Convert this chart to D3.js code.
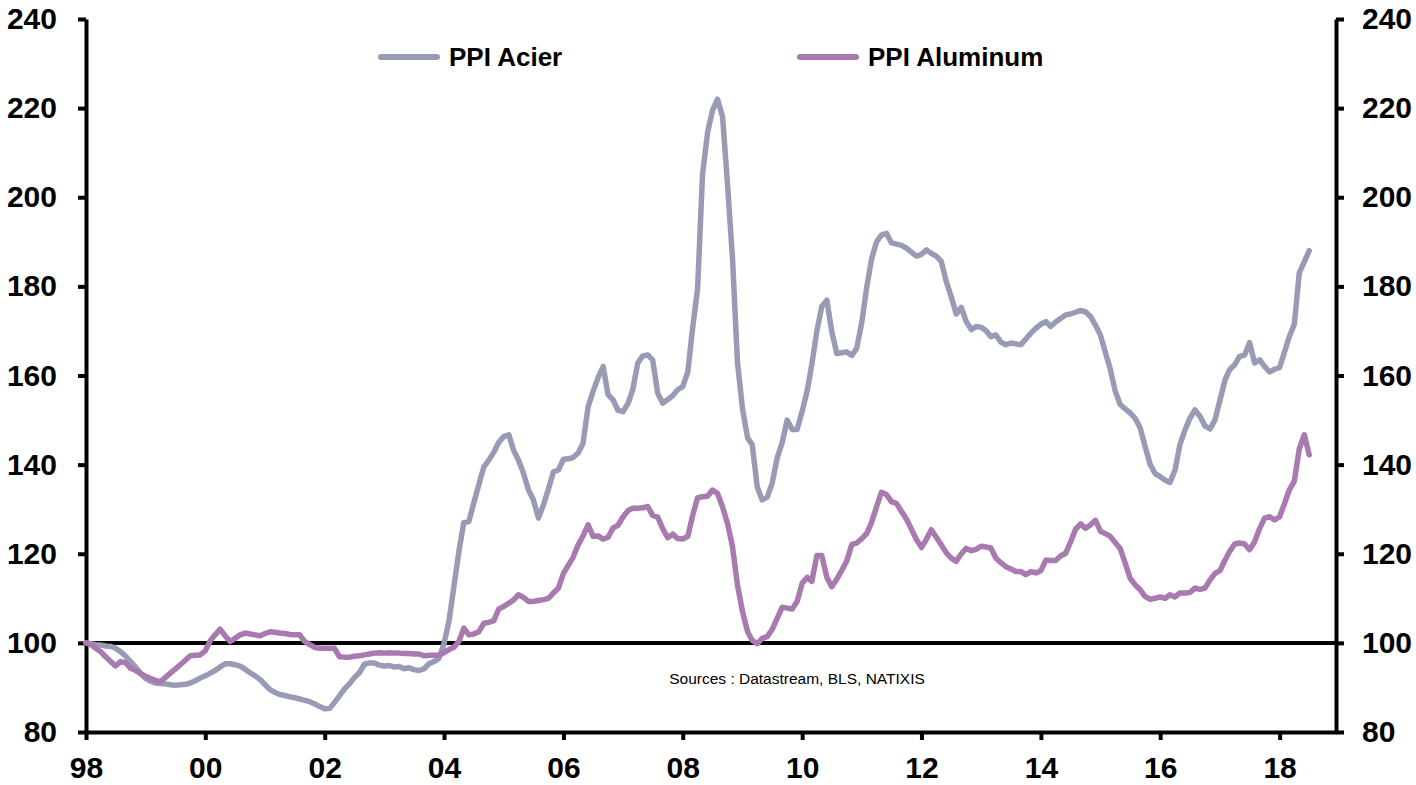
<!DOCTYPE html>
<html>
<head>
<meta charset="utf-8">
<script src="https://cdn.jsdelivr.net/npm/d3@7"></script>
<style>
  body { margin: 0; background: #fff; }
  svg { display: block; font-family: Arial, "Liberation Sans", sans-serif; }
</style>
</head>
<body>
<div id="chart"></div>
<script>
// monthly values, Jan 1998 -> Jul 2018 (index 1998 = 100)
const acier = [
  100, 99.8, 99.6, 99.5, 99.3, 99.2, 98.8, 98, 97, 95.8, 94.5, 93.2,
  92, 91.4, 91.0, 90.9, 90.8, 90.6, 90.5, 90.6, 90.7, 91.0, 91.5, 92.1,
  92.6, 93.2, 93.8, 94.6, 95.3, 95.3, 95.1, 94.8, 94.1, 93.3, 92.6, 91.8,
  90.6, 89.5, 88.9, 88.4, 88.2, 87.9, 87.7, 87.4, 87.1, 86.8, 86.3, 85.7,
  85.2, 85.3, 86.6, 88.1, 89.6, 90.8, 92.2, 93.3, 95.2, 95.5, 95.5, 95.0,
  94.8, 94.9, 94.6, 94.7, 94.2, 94.4, 94.0, 93.8, 94.2, 95.3, 95.8, 96.5,
  99.8, 105, 112.5, 120.5, 127, 127.2, 131.4, 135.5, 139.5, 141, 142.8, 145,
  146.3, 146.7, 143.3, 141, 138.1, 134.3, 132.1, 128, 131, 134.5, 138.4, 138.8,
  141.2, 141.3, 141.6, 142.6, 144.8, 153, 156.4, 159.5, 162, 155.7, 154.5, 152.2,
  151.9, 153.8, 156.8, 162.8, 164.4, 164.6, 163.5, 156, 153.8, 154.6, 155.5, 156.8,
  157.5, 160.8, 170.5, 179.5, 205, 214.5, 219.5, 222, 218, 203, 186, 163,
  152.5, 146, 144.5, 135, 132.1, 132.7, 135.8, 141.5, 145, 150, 147.9, 147.9,
  152, 156.6, 162.5, 170, 175.5, 176.9, 169.9, 164.9, 165.1, 165.3, 164.5, 166.1,
  172, 180, 186, 190, 191.5, 191.9, 189.8, 189.5, 189.2, 188.6, 187.7, 186.8,
  187.2, 188.2, 187.4, 186.8, 185.6, 181.1, 177.7, 173.8, 175.3, 172.1, 170.3, 171,
  170.8, 170, 168.7, 169.1, 167.5, 166.9, 167.3, 167.1, 166.9, 168.2, 169.5, 170.6,
  171.5, 172.1, 171, 172, 172.8, 173.6, 173.8, 174.2, 174.6, 174.3, 173.2, 171.3,
  169, 165, 161.5, 156.5, 153.5, 152.5, 151.6, 150.4, 148.2, 144, 140, 138,
  137.3, 136.5, 136, 138.8, 144.5, 147.8, 150.4, 152.3, 150.8, 148.7, 148, 150,
  154.5, 159, 161.3, 162.4, 164.3, 164.6, 167.4, 162.8, 163.5, 162, 160.8, 161.4,
  161.8, 165.4, 168.7, 171.5, 183, 185.5, 188
];

const aluminum = [
  100, 99.6, 98.8, 98.0, 96.9, 95.8, 94.8, 95.8, 95.5, 94.3, 93.8, 93.1,
  92.5, 92.0, 91.6, 91.3, 92.2, 93.2, 94.1, 95.1, 96.1, 97.1, 97.2, 97.3,
  98.2, 100.5, 101.8, 103.1, 101.6, 100.3, 101.0, 101.8, 102.2, 102.0, 101.8, 101.6,
  102.1, 102.5, 102.4, 102.2, 102.1, 101.9, 101.8, 101.8, 100.3, 99.6, 99.0, 98.8,
  98.8, 98.8, 98.8, 96.9, 96.8, 96.8, 97.0, 97.1, 97.3, 97.5, 97.7, 97.8,
  97.7, 97.8, 97.7, 97.7, 97.6, 97.6, 97.5, 97.5, 97.1, 97.2, 97.2, 97.3,
  97.8, 98.5, 99.0, 100.3, 103.3, 101.8, 102.0, 102.5, 104.4, 104.6, 105, 107.6,
  108.2, 108.9, 109.6, 110.8, 110.2, 109.3, 109.3, 109.5, 109.7, 110, 111.2, 112.3,
  115.6, 117.5, 119.2, 122, 124, 126.5, 123.9, 124, 123.3, 123.7, 125.8, 126.4,
  128.3, 129.7, 130.2, 130.2, 130.3, 130.6, 128.6, 128.2, 125.6, 123.6, 124.4, 123.4,
  123.3, 123.9, 128.5, 132.6, 132.8, 132.9, 134.3, 133.5, 130.5, 126.8, 121.5, 113,
  107, 102.5, 100.6, 99.8, 101, 101.4, 103, 105.5, 108, 107.8, 107.6, 109.3,
  113.4, 114.7, 113.8, 119.6, 119.6, 114.7, 112.6, 114.3, 116.3, 118.4, 122.1, 122.4,
  123.4, 124.6, 127, 130.5, 133.8, 133.3, 131.7, 131.3, 129.5, 127.8, 125.5, 123.2,
  121.4, 123.3, 125.4, 123.7, 122, 120.2, 119, 118.3, 120, 121.2, 120.7, 121,
  121.7, 121.5, 121.3, 119, 118, 117.1, 116.6, 116, 116, 115.3, 116, 115.7,
  116.2, 118.6, 118.5, 118.5, 119.5, 120.1, 122.6, 125.5, 126.7, 125.7, 126.5, 127.5,
  125, 124.5, 123.9, 122.5, 121.2, 117.9, 114.5, 113, 111.9, 110.4, 109.8, 110,
  110.3, 110, 110.8, 110.3, 111.2, 111.2, 111.3, 112.3, 112, 112.3, 114.1, 115.6,
  116.2, 118.6, 120.5, 122.2, 122.4, 122.2, 120.9, 122.7, 125.7, 128, 128.3, 127.6,
  128.3, 131.4, 134.3, 136.3, 143.5, 146.7, 142.2
];

const yTicks = [80, 100, 120, 140, 160, 180, 200, 220, 240];
const xTickYears = [1998, 2000, 2002, 2004, 2006, 2008, 2010, 2012, 2014, 2016, 2018];
const seriesNames = ["PPI Acier", "PPI Aluminum"];
const seriesColors = ["#999bb5", "#a87aaf"];
const sourceText = "Sources : Datastream, BLS, NATIXIS";

const width = 1416, height = 785;
const plotLeft = 86, plotRight = 1336, plotTop = 19, plotBottom = 732;

const svg = d3.select("#chart").append("svg")
  .attr("width", width)
  .attr("height", height);

const x = d3.scaleTime()
  .domain([new Date(1998, 0, 1), new Date(2018, 11, 12)])
  .range([plotLeft, plotRight]);

const y = d3.scaleLinear()
  .domain([80, 240])
  .range([plotBottom, plotTop]);

function toPoints(values) {
  return values.map((v, i) => ({ date: new Date(1998, i, 1), value: v }));
}

// axes
const xAxis = d3.axisBottom(x)
  .tickValues(xTickYears.map(yr => new Date(yr, 0, 1)))
  .tickFormat(d3.timeFormat("%y"))
  .tickSize(8)
  .tickSizeOuter(0)
  .tickPadding(17);

const yLeft = d3.axisLeft(y)
  .tickValues(yTicks)
  .tickSize(8)
  .tickSizeOuter(0)
  .tickPadding(21);

const yRight = d3.axisRight(y)
  .tickValues(yTicks)
  .tickSize(8)
  .tickSizeOuter(0)
  .tickPadding(18);

function styleAxis(g) {
  g.select(".domain").attr("stroke", "#000").attr("stroke-width", 4);
  g.selectAll(".tick line").attr("stroke", "#000").attr("stroke-width", 4);
  g.selectAll(".tick text")
    .attr("fill", "#000")
    .style("font-family", "Arial, 'Liberation Sans', sans-serif")
    .style("font-size", "30px")
    .style("font-weight", "bold");
}

svg.append("g").attr("transform", `translate(0,${plotBottom})`).call(xAxis).call(styleAxis);
svg.append("g").attr("transform", `translate(${plotLeft},0)`).call(yLeft).call(styleAxis);
svg.append("g").attr("transform", `translate(${plotRight},0)`).call(yRight).call(styleAxis);

// base 100 line
svg.append("line")
  .attr("x1", plotLeft)
  .attr("x2", plotRight)
  .attr("y1", y(100))
  .attr("y2", y(100))
  .attr("stroke", "#000")
  .attr("stroke-width", 4);

// series
const line = d3.line()
  .x(d => x(d.date))
  .y(d => y(d.value));

[acier, aluminum].forEach((vals, i) => {
  svg.append("path")
    .datum(toPoints(vals))
    .attr("d", line)
    .attr("fill", "none")
    .attr("stroke", seriesColors[i])
    .attr("stroke-width", 5.5)
    .attr("stroke-linejoin", "round")
    .attr("stroke-linecap", "round");
});

// legend
const legendX = [381, 800];
const legend = svg.selectAll(".legend").data(seriesNames).enter()
  .append("g")
    .attr("class", "legend")
    .attr("transform", (d, i) => `translate(${legendX[i]},57)`);

legend.append("line")
  .attr("x1", 0)
  .attr("x2", 56)
  .attr("y1", 0)
  .attr("y2", 0)
  .attr("stroke", (d, i) => seriesColors[i])
  .attr("stroke-width", 6)
  .attr("stroke-linecap", "round");

legend.append("text")
  .attr("x", 68)
  .attr("y", 9)
  .style("font-size", "26px")
  .style("font-weight", "bold")
  .attr("fill", "#000")
  .text(d => d);

// source note
svg.append("text")
  .attr("x", 797)
  .attr("y", 684)
  .attr("text-anchor", "middle")
  .style("font-size", "15.5px")
  .attr("fill", "#000")
  .text(sourceText);
</script>
</body>
</html>
